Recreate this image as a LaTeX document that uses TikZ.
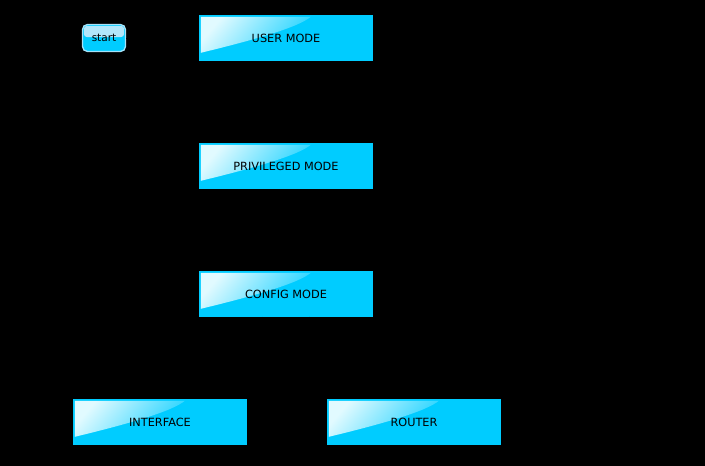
\documentclass[tikz,border=0pt]{standalone}
\usepackage{fontspec}
\setmainfont{DejaVu Sans}
\definecolor{boxcyan}{RGB}{0,204,255}
\definecolor{glosscyan}{RGB}{225,250,255}
\tikzset{
  modebox/.style={rectangle, fill=boxcyan, minimum width=174pt, minimum height=46pt, inner sep=0pt, text=black},
  modetext/.style={font=\fontsize{11.3}{13}\selectfont, text=black, inner sep=0pt},
  startbox/.style={rectangle, rounded corners=5pt, fill=boxcyan, draw=cyan!35!white, line width=1.3pt, minimum width=43pt, minimum height=27pt, inner sep=0pt},
  link/.style={draw=black, line width=0.8pt, -stealth}
}
\newcommand{\gloss}[1]{%
  \shade[top color=glosscyan, bottom color=boxcyan!85!glosscyan, shading angle=50]
    ([xshift=2pt,yshift=-2pt]#1.north west) -- ([xshift=112pt,yshift=-2pt]#1.north west)
    .. controls ([xshift=100pt,yshift=-12pt]#1.north west) and ([xshift=60pt,yshift=-24pt]#1.north west) .. ([xshift=2pt,yshift=-38pt]#1.north west) -- cycle;}
\begin{document}
\begin{tikzpicture}[x=1pt,y=-1pt]
\fill[black] (0,0) rectangle (705,466);
\useasboundingbox (0,0) rectangle (705,466);
\node[startbox] (start) at (104,38) {};
\fill[cyan!30!white, rounded corners=3pt] ([xshift=2pt,yshift=-2pt]start.north west) rectangle ([xshift=-2pt,yshift=1pt]start.east);
\node[font=\fontsize{10.5}{12}\selectfont] (startt) at (start.center) {start};
\node[modebox] (user) at (286,38) {};
\gloss{user}
\node[modetext] (usert) at (user.center) {USER MODE};
\node[modebox] (priv) at (286,166) {};
\gloss{priv}
\node[modetext] (privt) at (priv.center) {PRIVILEGED MODE};
\node[modebox] (conf) at (286,294) {};
\gloss{conf}
\node[modetext] (conft) at (conf.center) {CONFIG MODE};
\node[modebox] (intf) at (160,422) {};
\gloss{intf}
\node[modetext] (intft) at (intf.center) {INTERFACE};
\node[modebox] (rout) at (414,422) {};
\gloss{rout}
\node[modetext] (routt) at (rout.center) {ROUTER};
\draw[link] (start) -- (user);
\draw[link] ([xshift=-36pt]user.south) -- ([xshift=-36pt]priv.north);
\draw[link] ([xshift=36pt]priv.north) -- ([xshift=36pt]user.south);
\draw[link] (priv) -- (conf);
\draw[link] (conf) -- (intf);
\draw[link] (conf) -- (rout);
\end{tikzpicture}
\end{document}
